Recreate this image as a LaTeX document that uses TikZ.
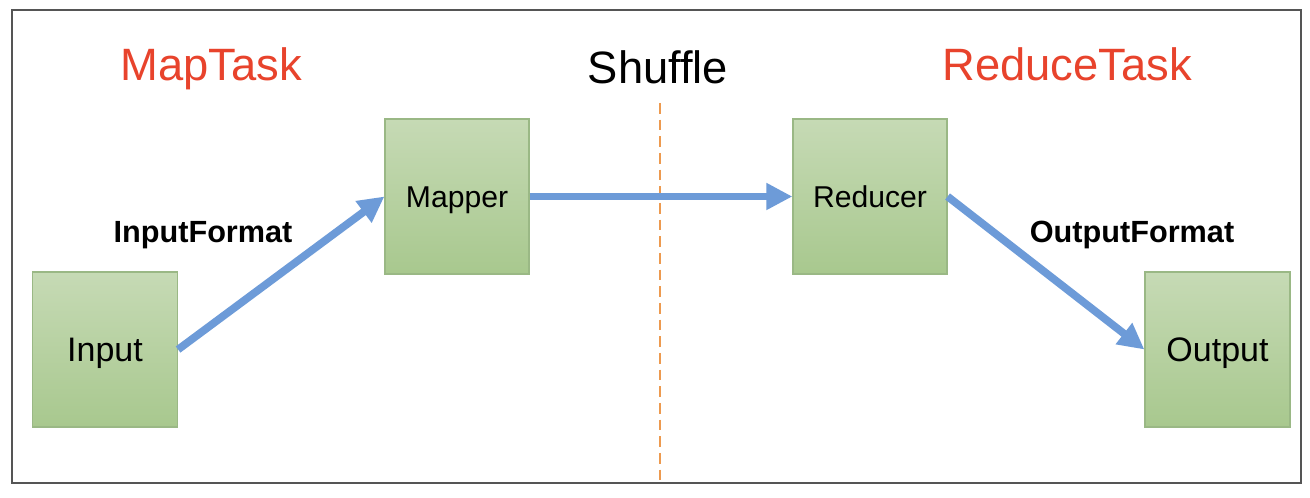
\documentclass[tikz,border=0pt]{standalone}
\usepackage{fontspec}
\setmainfont{Liberation Sans}
\usetikzlibrary{arrows.meta}
\definecolor{redtxt}{HTML}{E8432C}
\definecolor{arrowblue}{HTML}{6D9BD8}
\definecolor{dashorange}{HTML}{ED9A4F}
\definecolor{boxtop}{HTML}{C6DAB5}
\definecolor{boxbot}{HTML}{A8C88E}
\definecolor{boxline}{HTML}{9AB885}
\definecolor{framegray}{HTML}{555555}
\tikzset{
  taskbox/.style={draw=boxline, line width=0.9pt, top color=boxtop, bottom color=boxbot,
    minimum height=116.25pt, inner sep=0pt, text depth=0pt},
  bigbox/.style={taskbox, minimum width=108.75pt, text height=18.26pt, font=\fontsize{25.5}{30}\selectfont},
  midbox/.style={taskbox, text height=16.2pt, font=\fontsize{22.6}{27}\selectfont},
  heading/.style={anchor=base, text=redtxt, font=\fontsize{34}{40}\selectfont, inner sep=0pt},
  fmtlabel/.style={anchor=base, font=\bfseries\fontsize{23}{28}\selectfont, inner sep=0pt},
  flow/.style={draw=arrowblue, line width=5.8pt, -{Triangle[length=19.5pt,width=19pt]}},
}
\begin{document}
\begin{tikzpicture}[x=0.75pt,y=-0.75pt]
\useasboundingbox (0,0) rectangle (1310,498);
\fill[white] (0,0) rectangle (1310,498);
\draw[framegray, line width=1.5pt] (12,10) rectangle (1301,483);
% dashed separator
\coordinate (dtop) at (660,103);
\coordinate (dbot) at (660,483);
\draw[dashorange, line width=1.6pt, dash pattern=on 8pt off 4.5pt] (dtop) -- (dbot);
% headings
\node[heading] (mt) at (211,81) {MapTask};
\node[heading, text=black] (sh) at (658,84) {Shuffle};
\node[heading] (rt) at (1067,81) {ReduceTask};
% boxes
\node[bigbox] (in) at (105,349.5) {Input};
\node[midbox, minimum width=108pt] (map) at (457,196.5) {Mapper};
\node[midbox, minimum width=115.5pt] (red) at (870,196.5) {Reducer};
\node[bigbox] (out) at (1217.5,349.5) {Output};
% arrows
\draw[flow] (in.east) -- (map.west);
\draw[flow] (map.east) -- (red.west);
\draw[flow] (red.east) -- (out.west);
% format labels
\node[fmtlabel] (inf) at (203,243) {InputFormat};
\node[fmtlabel] (outf) at (1132,243) {OutputFormat};
\end{tikzpicture}
\end{document}
